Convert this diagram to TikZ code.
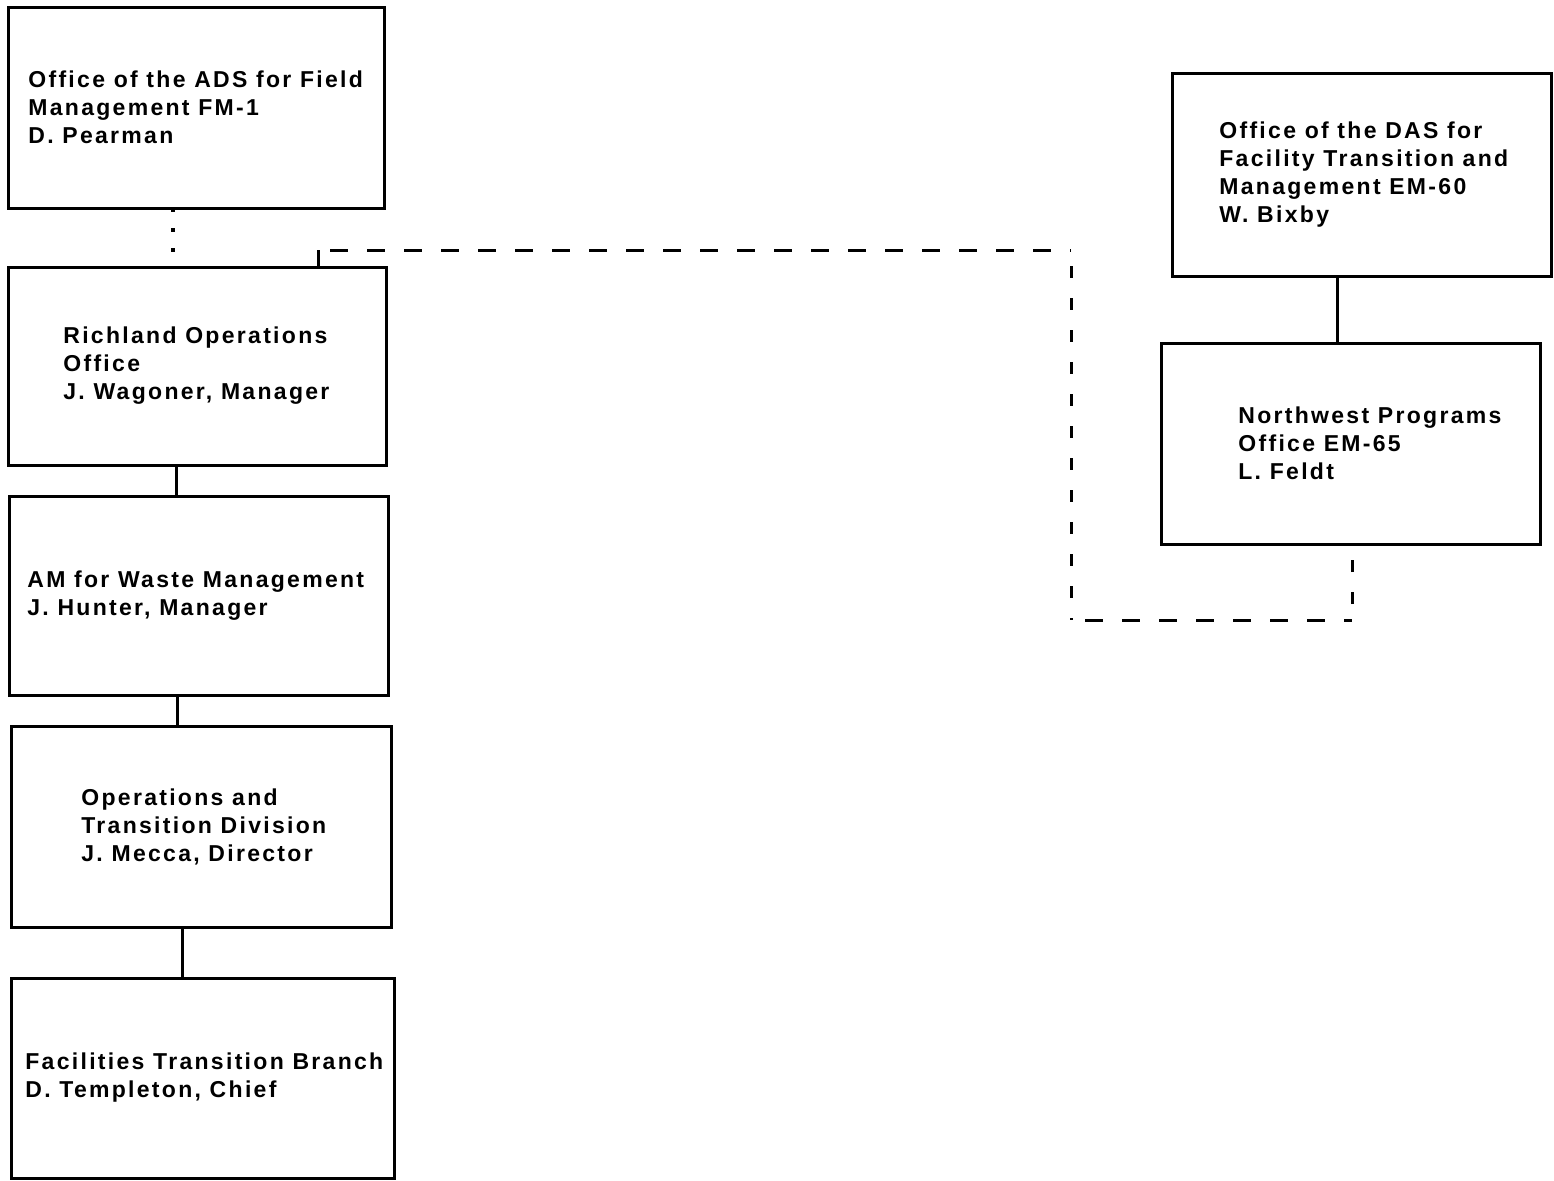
\documentclass[tikz,border=0pt]{standalone}
\usepackage{fontspec}
\newfontfamily\orgfont{Liberation Sans}[LetterSpace=10]
\begin{document}
\begin{tikzpicture}[x=0.5pt,y=-0.5pt,
  box/.style={draw, line width=1.5pt, rectangle, inner sep=0pt, outer sep=0pt},
  txt/.style={anchor=west, align=left, inner sep=0pt,
    font=\orgfont\bfseries\fontsize{11.5pt}{14pt}\selectfont},
  link/.style={line width=1.5pt},
  dashlink/.style={line width=1.5pt, dash pattern=on 9pt off 9.5pt},
  vdashlink/.style={line width=1.5pt, dash pattern=on 6pt off 10pt, dash phase=-8pt},
  dotlink/.style={line width=2pt, dash pattern=on 2pt off 8pt}]
\useasboundingbox (0,0) rectangle (1554,1180);
\node[box, minimum width=188pt, minimum height=100.5pt] (b1) at (196,107.5) {};
\node[box, minimum width=189pt, minimum height=99pt] (b2) at (197,366) {};
\node[box, minimum width=189.5pt, minimum height=99.5pt] (b3) at (198.5,595.5) {};
\node[box, minimum width=190pt, minimum height=100.5pt] (b4) at (201,826.5) {};
\node[box, minimum width=191.5pt, minimum height=100pt] (b5) at (202.5,1078) {};
\node[box, minimum width=189.5pt, minimum height=101.5pt] (b6) at (1361.5,174.5) {};
\node[box, minimum width=189.5pt, minimum height=100.5pt] (b7) at (1350.5,443.5) {};
\node[txt] (t1) at ([xshift=10pt]b1.west) {Office of the ADS for Field\\Management FM-1\\D. Pearman};
\node[txt] (t2) at ([xshift=27.5pt]b2.west) {Richland Operations\\Office\\J. Wagoner, Manager};
\node[txt] (t3) at ([xshift=9pt]b3.west) {AM for Waste Management\\J. Hunter, Manager};
\node[txt] (t4) at ([xshift=35pt]b4.west) {Operations and\\Transition Division\\J. Mecca, Director};
\node[txt] (t5) at ([xshift=7pt]b5.west) {Facilities Transition Branch\\D. Templeton, Chief};
\node[txt] (t6) at ([xshift=23.5pt]b6.west) {Office of the DAS for\\Facility Transition and\\Management EM-60\\W. Bixby};
\node[txt] (t7) at ([xshift=38.5pt]b7.west) {Northwest Programs\\Office EM-65\\L. Feldt};
% connectors
\draw[dotlink] ([xshift=-11.5pt]b1.south) -- ([xshift=-11.5pt]b1.south |- b2.north);
\draw[link] ([xshift=-10.5pt]b2.south) -- ([xshift=-10.5pt]b2.south |- b3.north);
\draw[link] ([xshift=-10.75pt]b3.south) -- ([xshift=-10.75pt]b3.south |- b4.north);
\draw[link] ([xshift=-9.5pt]b4.south) -- ([xshift=-9.5pt]b4.south |- b5.north);
\draw[link] ([xshift=-12.25pt]b6.south) -- ([xshift=-12.25pt]b6.south |- b7.north);
\coordinate (tk) at ([xshift=60.5pt,yshift=8.5pt]b2.north);
\coordinate (d0) at ([xshift=6pt]tk);
\coordinate (d1) at (1071,250);
\coordinate (d2) at (1071,620);
\coordinate (e7) at ([xshift=0.75pt]b7.south);
\draw[link] ([xshift=60.5pt]b2.north) -- (tk);
\draw[dashlink] (d0) -- (d1);
\draw[vdashlink] (d1) -- (d2);
\draw[dashlink] ([xshift=7pt]d2) -- (d2 -| e7);
\draw[vdashlink] (d2 -| e7) -- (e7);
\end{tikzpicture}
\end{document}
